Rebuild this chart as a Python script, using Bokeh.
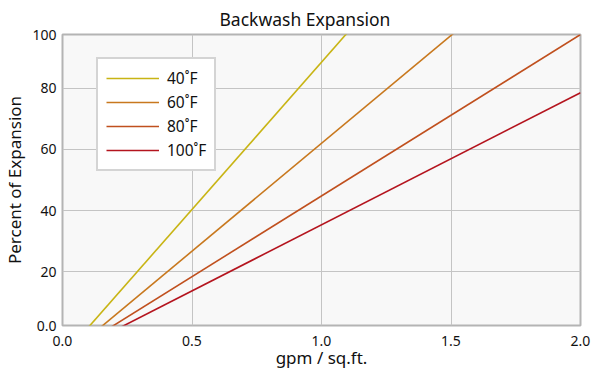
from bokeh.plotting import figure
from bokeh.models import Range1d, FixedTicker, PrintfTickFormatter, Legend, LegendItem, Title
from bokeh.embed import file_html
from bokeh.resources import INLINE

# ---- data ----
series_names = ["40˚F", "60˚F", "80˚F", "100˚F"]
series_colors = ["#c8b414", "#c8781e", "#c0501e", "#b4141e"]
flow_40 = [0.08, 1.12]
exp_40 = [0, 100]
flow_60 = [0.12, 1.54]
exp_60 = [0, 100]
flow_80 = [0.15, 2.0]
exp_80 = [0, 97.5]
flow_100 = [0.18, 2.0]
exp_100 = [0, 78.5]
x_ticks = [0, 0.5, 1.0, 1.5, 2.0]
y_ticks = [2.5, 20, 40, 60, 80, 97.5]
y_tick_labels = {2.5: "0.0", 97.5: "100"}
title_text = "Backwash Expansion"
x_title = "gpm / sq.ft."
y_title = "Percent of Expansion"

FONT = "Noto Sans"

p = figure(width=600, height=377, output_backend="svg", toolbar_location=None,
           x_range=Range1d(0, 2.0), y_range=Range1d(2.5, 97.5),
           min_border_left=55, min_border_right=20, min_border_top=0, min_border_bottom=52)

p.background_fill_color = "#f8f8f8"
p.border_fill_color = "white"
p.outline_line_color = "#b4b4b4"
p.outline_line_width = 2

p.title = Title(text=title_text, align="left", offset=157,
                text_font=FONT, text_font_size="17.5px", text_font_style="normal",
                text_color="#111111", standoff=8)

xs = [flow_40, flow_60, flow_80, flow_100]
ys = [exp_40, exp_60, exp_80, exp_100]
items = []
for name, color, x, y in zip(series_names, series_colors, xs, ys):
    r = p.line(x, y, line_color=color, line_width=1.6)
    items.append(LegendItem(label=name, renderers=[r]))

# axes
for ax in (p.xaxis[0], p.yaxis[0]):
    ax.axis_line_color = None
    ax.major_tick_line_color = None
    ax.minor_tick_line_color = None
    ax.major_tick_in = 0
    ax.major_tick_out = 0
    ax.major_label_text_font = FONT
    ax.major_label_text_font_size = "14px"
    ax.major_label_text_color = "#111111"
    ax.axis_label_text_font = FONT
    ax.axis_label_text_font_size = "17px"
    ax.axis_label_text_font_style = "normal"
    ax.axis_label_text_color = "#111111"

p.xaxis.ticker = FixedTicker(ticks=x_ticks)
p.xaxis.formatter = PrintfTickFormatter(format="%.1f")
p.xaxis.axis_label = x_title
p.xaxis.major_label_standoff = 10
p.xaxis.axis_label_standoff = -3

p.yaxis.ticker = FixedTicker(ticks=y_ticks)
p.yaxis.major_label_overrides = y_tick_labels
p.yaxis.axis_label = y_title
p.yaxis.major_label_standoff = 6
p.yaxis.axis_label_standoff = 3

p.xgrid.ticker = FixedTicker(ticks=x_ticks)
p.ygrid.ticker = FixedTicker(ticks=y_ticks)
for g in (p.xgrid[0], p.ygrid[0]):
    g.grid_line_color = "#c4c4c4"
    g.grid_line_width = 1

legend = Legend(items=items, location=(34, 154))
legend.background_fill_color = "white"
legend.background_fill_alpha = 1
legend.border_line_color = "#aaaaaa"
legend.border_line_width = 2
legend.label_text_font = FONT
legend.label_text_font_size = "15.5px"
legend.label_text_color = "#111111"
legend.glyph_width = 53
legend.glyph_height = 20
legend.label_height = 20
legend.label_standoff = 8
legend.spacing = 2
legend.padding = 8
legend.margin = 0
p.add_layout(legend)

open("out.html", "w").write(file_html(p, INLINE))
